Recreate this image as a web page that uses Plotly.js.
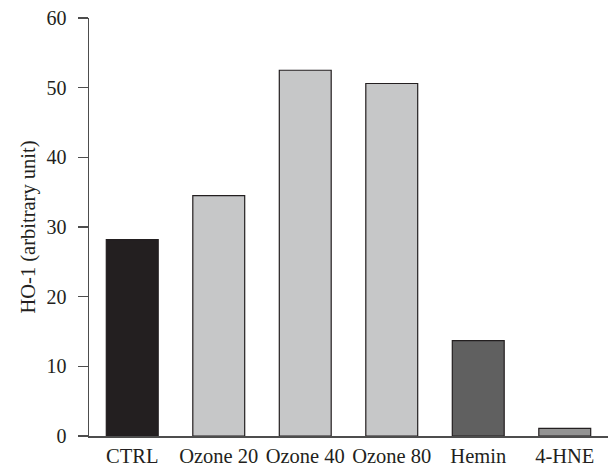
<!DOCTYPE html>
<html>
<head>
<meta charset="utf-8">
<script src="https://cdn.plot.ly/plotly-3.0.1.min.js"></script>
<style>html,body{margin:0;padding:0;background:#fff;}#chart{width:608px;height:466px;}</style>
</head>
<body>
<div id="chart"></div>
<script>
var categories = ["CTRL", "Ozone 20", "Ozone 40", "Ozone 80", "Hemin", "4-HNE"];
var values = [28.2, 34.5, 52.5, 50.6, 13.7, 1.1];
var barColors = ["#231f20", "#c6c7c8", "#c6c7c8", "#c6c7c8", "#606060", "#939393"];
var yTicks = [0, 10, 20, 30, 40, 50, 60];

var fam = "Liberation Serif, Times New Roman, serif";
var tickFontY = {family: fam, size: 20, color: "#231f20"};
var tickFontX = {family: fam, size: 20.5, color: "#231f20"};
var titleFont = {family: fam, size: 20.5, color: "#231f20"};

Plotly.newPlot("chart", [{
  type: "bar",
  x: categories,
  y: values,
  marker: {color: barColors, line: {color: "#231f20", width: 1.2}},
  hoverinfo: "none"
}], {
  width: 608, height: 466,
  margin: {l: 89, r: 0, t: 18, b: 30, pad: 0},
  paper_bgcolor: "#ffffff", plot_bgcolor: "#ffffff",
  font: tickFontY,
  bargap: 0.4,
  showlegend: false,
  xaxis: {
    type: "category",
    range: [-0.5, 5.5],
    showline: true, linecolor: "#4d4d4d", linewidth: 1.5,
    ticks: "", showgrid: false, zeroline: false,
    tickfont: tickFontX,
    ticklabelstandoff: 1
  },
  yaxis: {
    range: [0, 60],
    tickvals: yTicks,
    ticktext: yTicks.map(String),
    showline: true, linecolor: "#4d4d4d", linewidth: 1.5,
    ticks: "outside", ticklen: 10, tickwidth: 1.5, tickcolor: "#4d4d4d",
    showgrid: false, zeroline: false,
    tickfont: tickFontY,
    ticklabelstandoff: 7,
    title: {text: "HO-1 (arbitrary unit)", font: titleFont, standoff: 5}
  }
}, {staticPlot: true});
</script>
</body>
</html>
